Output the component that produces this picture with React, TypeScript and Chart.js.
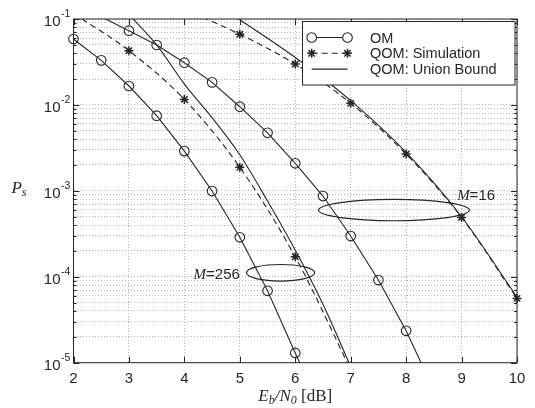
import React, { useEffect, useRef } from "react";
import { Chart, registerables } from "chart.js";

Chart.register(...registerables);

// ---- data ----
const omX256 = [2, 2.5, 3, 3.5, 4, 4.5, 5, 5.5, 6, 6.5];
const om256 = [0.0585, 0.033, 0.0166, 0.0075, 0.0029, 0.000995, 0.000288, 0.0000687, 0.000013, 0.0000025];

const omX16 = [2.5, 3, 3.5, 4, 4.5, 5, 5.5, 6, 6.5, 7, 7.5, 8, 8.5];
const om16 = [0.106, 0.0731, 0.0498, 0.031, 0.0183, 0.00953, 0.00474, 0.00209, 0.00087, 0.000298, 0.0000916, 0.0000235, 0.0000048];

const simX256 = [2, 3, 4, 5, 6, 7];
const sim256 = [0.116, 0.0428, 0.0116, 0.00188, 0.000171, 0.0000083];

const ubX256 = [3, 3.5, 4, 4.5, 5, 5.5, 6, 6.5, 7];
const ub256 = [0.113, 0.05, 0.0175, 0.0071, 0.00263, 0.00076, 0.000204, 0.000048, 0.000009];

const simX16 = [4, 5, 6, 7, 8, 9, 10];
const sim16 = [0.13, 0.0664, 0.0299, 0.01045, 0.00268, 0.00049, 0.000056];

const ubX16 = [4.5, 5, 6, 7, 8, 9, 10];
const ub16 = [0.16, 0.098, 0.0356, 0.0112, 0.0028, 0.0005, 0.000058];

const xTicks = [2, 3, 4, 5, 6, 7, 8, 9, 10];
const yTickExponents = [-1, -2, -3, -4, -5];
const legendLabels = ["OM", "QOM: Simulation", "QOM: Union Bound"];
const groupLabels = ["256", "16"];

// ---- styling ----
const INK = "#262626";
const GRID = "#b4b4b4";
const SANS = '"Liberation Sans", Arial, Helvetica, sans-serif';
const SERIF = '"Liberation Serif", "Times New Roman", serif';
const YMIN = 1e-5;
const YMAX = 1e-1;

const toPts = (xs: number[], ys: number[]) => xs.map((x, i) => ({ x, y: ys[i] }));
const visible = (c: any) => {
  const v = c.raw && c.raw.y;
  return v >= YMIN && v <= YMAX;
};

function drawStar(ctx: CanvasRenderingContext2D, x: number, y: number, r: number) {
  ctx.beginPath();
  for (let k = 0; k < 4; k++) {
    const a = (k * Math.PI) / 4;
    ctx.moveTo(x + Math.cos(a) * r, y + Math.sin(a) * r);
    ctx.lineTo(x - Math.cos(a) * r, y - Math.sin(a) * r);
  }
  ctx.stroke();
}

const overlay = {
  id: "overlay",
  afterDatasetsDraw(chart: any) {
    const { ctx, chartArea: a, scales } = chart;
    const xs = scales.x;
    const ys = scales.y;
    ctx.save();
    ctx.strokeStyle = INK;
    ctx.fillStyle = INK;
    ctx.lineWidth = 1;

    // box
    ctx.strokeRect(a.left, a.top, a.right - a.left, a.bottom - a.top);

    // y tick marks (major + minor), both sides
    for (let e = -5; e <= -1; e++) {
      for (let m = 1; m <= 9; m++) {
        const v = m * Math.pow(10, e);
        if (v > YMAX * 1.0001) break;
        const py = Math.round(ys.getPixelForValue(v)) + 0.5;
        const len = m === 1 ? 6 : 3;
        ctx.beginPath();
        ctx.moveTo(a.left, py);
        ctx.lineTo(a.left + len, py);
        ctx.moveTo(a.right, py);
        ctx.lineTo(a.right - len, py);
        ctx.stroke();
      }
    }
    // x tick marks
    xTicks.forEach((t) => {
      const px = Math.round(xs.getPixelForValue(t)) + 0.5;
      ctx.beginPath();
      ctx.moveTo(px, a.bottom);
      ctx.lineTo(px, a.bottom - 6);
      ctx.moveTo(px, a.top);
      ctx.lineTo(px, a.top + 6);
      ctx.stroke();
    });

    // y tick labels 10^e
    yTickExponents.forEach((e) => {
      const py = ys.getPixelForValue(Math.pow(10, e));
      ctx.font = `15px ${SANS}`;
      ctx.textAlign = "right";
      ctx.textBaseline = "alphabetic";
      ctx.fillText("10", a.left - 13, py + 7);
      ctx.font = `10.5px ${SANS}`;
      ctx.textAlign = "left";
      ctx.fillText(String(e), a.left - 12.5, py - 2);
    });

    // x tick labels
    ctx.font = `15px ${SANS}`;
    ctx.textAlign = "center";
    xTicks.forEach((t) => {
      ctx.fillText(String(t), xs.getPixelForValue(t), a.bottom + 20);
    });

    // axis titles
    const drawRich = (parts: { t: string; f: string; dy: number }[], cx: number, base: number) => {
      let w = 0;
      parts.forEach((p) => {
        ctx.font = p.f;
        w += ctx.measureText(p.t).width;
      });
      let x = cx - w / 2;
      ctx.textAlign = "left";
      parts.forEach((p) => {
        ctx.font = p.f;
        ctx.fillText(p.t, x, base + p.dy);
        x += ctx.measureText(p.t).width;
      });
    };
    drawRich(
      [
        { t: "E", f: `italic 17px ${SERIF}`, dy: 0 },
        { t: "b", f: `italic 12px ${SERIF}`, dy: 3 },
        { t: "/N", f: `italic 17px ${SERIF}`, dy: 0 },
        { t: "0", f: `italic 12px ${SERIF}`, dy: 3 },
        { t: " [dB]", f: `17px ${SERIF}`, dy: 0 },
      ],
      (a.left + a.right) / 2,
      a.bottom + 38
    );
    drawRich(
      [
        { t: "P", f: `italic 17px ${SERIF}`, dy: 0 },
        { t: "s", f: `italic 12px ${SERIF}`, dy: 3 },
      ],
      19,
      (a.top + a.bottom) / 2 + 2
    );

    // group ellipses and labels
    const ell = (x0: number, x1: number, y0: number, y1: number) => {
      const px0 = xs.getPixelForValue(x0);
      const px1 = xs.getPixelForValue(x1);
      const py0 = ys.getPixelForValue(y0);
      const py1 = ys.getPixelForValue(y1);
      ctx.beginPath();
      ctx.ellipse((px0 + px1) / 2, (py0 + py1) / 2, Math.abs(px1 - px0) / 2, Math.abs(py1 - py0) / 2, 0, 0, Math.PI * 2);
      ctx.lineWidth = 1.2;
      ctx.stroke();
    };
    ell(5.12, 6.35, 8.9e-5, 1.39e-4);
    ell(6.42, 9.14, 4.49e-4, 7.95e-4);

    const mLabel = (txt: string, x: number, yv: number, align: "left" | "right") => {
      const px = xs.getPixelForValue(x);
      const py = ys.getPixelForValue(yv) + 5;
      ctx.font = `italic 15px ${SERIF}`;
      const wm = ctx.measureText("M").width;
      ctx.font = `15px ${SANS}`;
      const wr = ctx.measureText("=" + txt).width;
      const start = align === "left" ? px : px - wm - wr;
      ctx.textAlign = "left";
      ctx.font = `italic 15px ${SERIF}`;
      ctx.fillText("M", start, py);
      ctx.font = `15px ${SANS}`;
      ctx.fillText("=" + txt, start + wm, py);
    };
    mLabel(groupLabels[0], 5.0, 1.07e-4, "right");
    mLabel(groupLabels[1], 8.92, 8.93e-4, "left");

    // legend
    const lx = 302.5;
    const ly = a.top + 2.5;
    const lw = a.right - 2 - lx;
    const lh = 63.5;
    ctx.fillStyle = "#ffffff";
    ctx.fillRect(lx, ly, lw, lh);
    ctx.lineWidth = 1;
    ctx.strokeStyle = INK;
    ctx.strokeRect(lx, ly, lw, lh);
    ctx.fillStyle = INK;
    const rows = [ly + 16, ly + 31.8, ly + 47.6];
    const s0 = 311.7;
    const s1 = 347.5;
    ctx.lineWidth = 1.1;
    // OM
    ctx.beginPath();
    ctx.moveTo(s0, rows[0]);
    ctx.lineTo(s1, rows[0]);
    ctx.stroke();
    [s0, s1].forEach((sx) => {
      ctx.beginPath();
      ctx.arc(sx, rows[0], 4.8, 0, Math.PI * 2);
      ctx.fillStyle = "#ffffff";
      ctx.fill();
      ctx.stroke();
    });
    // Simulation
    ctx.setLineDash([6, 4]);
    ctx.beginPath();
    ctx.moveTo(s0, rows[1]);
    ctx.lineTo(s1, rows[1]);
    ctx.stroke();
    ctx.setLineDash([]);
    ctx.lineWidth = 1.5;
    [s0, s1].forEach((sx) => drawStar(ctx, sx, rows[1], 4.5));
    // Union bound
    ctx.lineWidth = 1.1;
    ctx.beginPath();
    ctx.moveTo(s0, rows[2]);
    ctx.lineTo(s1, rows[2]);
    ctx.stroke();

    ctx.fillStyle = INK;
    ctx.font = `14.5px ${SANS}`;
    ctx.textAlign = "left";
    ctx.textBaseline = "middle";
    legendLabels.forEach((t, i) => ctx.fillText(t, 370, rows[i] + 1));
    ctx.restore();
  },
};

export default function App() {
  const ref = useRef<HTMLCanvasElement | null>(null);
  useEffect(() => {
    if (!ref.current) return;
    const common = {
      borderColor: INK,
      pointBorderColor: INK,
      backgroundColor: "rgba(0,0,0,0)",
      pointBackgroundColor: "rgba(0,0,0,0)",
      fill: false,
      clip: { left: 8, right: 8, top: 0, bottom: 0 },
    };
    const chart = new Chart(ref.current, {
      type: "line",
      data: {
        datasets: [
          {
            ...common,
            label: "OM M=256",
            data: toPts(omX256, om256),
            borderWidth: 1.1,
            pointStyle: "circle",
            pointRadius: (c: any) => (visible(c) ? 4.8 : 0),
            pointBorderWidth: 1.1,
            tension: 0,
          },
          {
            ...common,
            label: "OM M=16",
            data: toPts(omX16, om16),
            borderWidth: 1.1,
            pointStyle: "circle",
            pointRadius: (c: any) => (visible(c) ? 4.8 : 0),
            pointBorderWidth: 1.1,
            tension: 0,
          },
          {
            ...common,
            label: "QOM sim M=256",
            data: toPts(simX256, sim256),
            borderWidth: 1.1,
            borderDash: [6, 4],
            pointStyle: "star",
            pointRadius: (c: any) => (visible(c) ? 4.5 : 0),
            pointBorderWidth: 1.5,
            cubicInterpolationMode: "monotone",
          },
          {
            ...common,
            label: "QOM UB M=256",
            data: toPts(ubX256, ub256),
            borderWidth: 1.1,
            pointRadius: 0,
            cubicInterpolationMode: "monotone",
          },
          {
            ...common,
            label: "QOM sim M=16",
            data: toPts(simX16, sim16),
            borderWidth: 1.1,
            borderDash: [6, 4],
            pointStyle: "star",
            pointRadius: (c: any) => (visible(c) ? 4.5 : 0),
            pointBorderWidth: 1.5,
            cubicInterpolationMode: "monotone",
          },
          {
            ...common,
            label: "QOM UB M=16",
            data: toPts(ubX16, ub16),
            borderWidth: 1.1,
            pointRadius: 0,
            cubicInterpolationMode: "monotone",
          },
        ],
      },
      options: {
        animation: false,
        responsive: false,
        maintainAspectRatio: false,
        events: [],
        layout: { padding: { left: 73.5, right: 18, top: 19, bottom: 45.3 } },
        plugins: { legend: { display: false }, tooltip: { enabled: false }, title: { display: false } },
        scales: {
          x: {
            type: "linear",
            min: 2,
            max: 10,
            afterBuildTicks: (s: any) => {
              s.ticks = xTicks.map((v) => ({ value: v }));
            },
            ticks: { display: false },
            grid: { color: GRID, lineWidth: 1, drawTicks: false },
            border: { display: false, dash: [1, 2] },
          },
          y: {
            type: "logarithmic",
            min: YMIN,
            max: YMAX,
            afterBuildTicks: (s: any) => {
              const t: { value: number }[] = [];
              for (let e = -5; e <= -2; e++) {
                for (let m = 1; m <= 9; m++) t.push({ value: m * Math.pow(10, e) });
              }
              t.push({ value: YMAX });
              s.ticks = t;
            },
            ticks: { display: false },
            grid: { color: GRID, lineWidth: 1, drawTicks: false },
            border: { display: false, dash: [1, 2] },
          },
        },
      },
      plugins: [overlay],
    } as any);
    return () => chart.destroy();
  }, []);
  return (
    <div style={{ position: "absolute", left: 0, top: 0, width: 535, height: 408, background: "#fff" }}>
      <canvas ref={ref} width={535} height={408} style={{ display: "block" }} />
    </div>
  );
}
